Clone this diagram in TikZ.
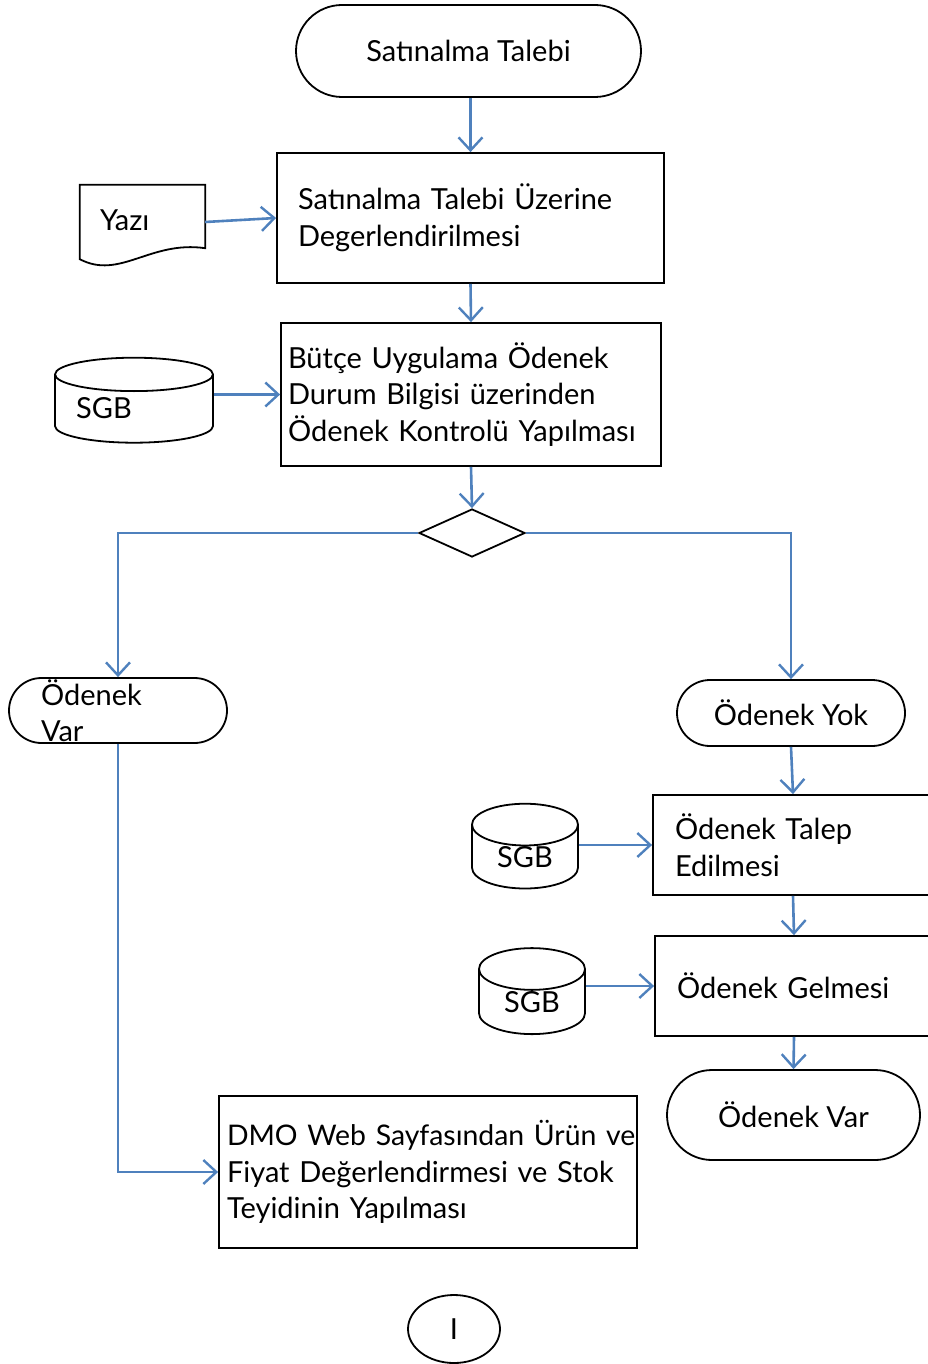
\documentclass[tikz,border=0pt]{standalone}
\usepackage{fontspec}
\setmainfont{Lato}
\usepackage{tikz}
\usetikzlibrary{shapes.geometric, arrows.meta}
\definecolor{flowblue}{HTML}{4F81BD}

\begin{document}
\begin{tikzpicture}[
        x=1pt, y=-1pt,
        font=\fontsize{29}{36.5}\selectfont,
        term/.style={rectangle, draw=black, line width=1.8pt, inner sep=0pt, align=center},
        proc/.style={rectangle, draw=black, line width=1.8pt, align=left, inner ysep=0pt},
        db/.style={cylinder, shape border rotate=90, draw=black, line width=1.8pt, inner sep=0pt},
        flow/.style={draw=flowblue, line width=2.6pt, -{Straight Barb[length=13pt, width=24pt, line width=2.4pt]}}
    ]
        \useasboundingbox (0,0) rectangle (927,1364);

        % Main column
        \node[term, minimum width=345, minimum height=92, rounded corners=46pt] (start) at (468.5,51) {Satınalma Talebi};
        \node[proc, minimum height=130, inner xsep=21pt, text width=345] (eval) at (470.5,218) {Satınalma Talebi Üzerine\\Degerlendirilmesi};
        \node[proc, minimum height=143, inner xsep=7pt, text width=366] (check) at (471,394.5) {Bütçe Uygulama Ödenek\\Durum Bilgisi üzerinden\\Ödenek Kontrolü Yapılması};
        \node[diamond, draw=black, line width=1.8pt, minimum width=106, minimum height=48, inner sep=0pt] (dec) at (472,533) {};

        % Inputs
        \node[align=left, minimum height=74, inner xsep=20pt, text width=85] (yazi) at (142.5,222) {\raisebox{4pt}{Yazı}};
        \draw[line width=1.8pt] (yazi.south west) -- (yazi.north west) -- (yazi.north east) -- ([yshift=11pt]yazi.south east)
            .. controls +(-55,-8) and +(40,21) .. (yazi.south west) -- cycle;
        \node[db, minimum width=158, minimum height=85, aspect=0.6] (sgb1) at (134,409) {\phantom{SGB}};
        \node (sgb1txt) at (104,408) {SGB};

        % Left branch
        \node[term, minimum width=218, minimum height=65, rounded corners=32.5pt, align=left, text width=154] (var1) at (118,710.5) {Ödenek\\Var};
        \node[proc, minimum height=152, inner xsep=8pt, text width=402] (dmo) at (428,1172) {\mbox{\fontsize{28.4}{36.5}\selectfont DMO Web Sayfasından Ürün ve}\\Fiyat Değerlendirmesi ve Stok\\Teyidinin Yapılması};

        % Right branch
        \node[term, minimum width=228, minimum height=66, rounded corners=33pt] (yok) at (791,713) {Ödenek Yok};
        \node[proc, minimum height=100, inner xsep=22pt, text width=236] (talep) at (793,845) {Ödenek Talep\\Edilmesi};
        \node[db, minimum width=106, minimum height=83, aspect=0.75] (sgb2) at (525,857) {SGB};
        \node[proc, minimum height=100, inner xsep=22pt, text width=234] (gelme) at (794,986) {Ödenek Gelmesi};
        \node[db, minimum width=106, minimum height=86, aspect=0.75] (sgb3) at (532,1002) {SGB};
        \node[term, minimum width=253, minimum height=90, rounded corners=45pt] (var2) at (793.5,1115) {Ödenek Var};

        % Connector
        \node[ellipse, draw=black, line width=1.8pt, minimum width=92, minimum height=68, inner sep=0pt] (conn) at (454,1329) {I};

        % Flow
        \draw[flow] (start.south -| eval) -- (eval.north);
        \draw[flow] (yazi.east) -- (eval.west);
        \draw[flow] (eval.south) -- (check.north);
        \draw[flow] (sgb1.east |- check.west) -- (check.west);
        \draw[flow] (check.south) -- (dec.north);
        \draw[flow] (dec.west) -| (var1.north);
        \draw[flow] (dec.east) -| (yok.north);
        \draw[flow] (var1.south) |- (dmo.west);
        \draw[flow] (yok.south) -- (talep.north);
        \draw[flow] (sgb2.east |- talep.west) -- (talep.west);
        \draw[flow] (talep.south) -- (gelme.north);
        \draw[flow] (sgb3.east |- gelme.west) -- (gelme.west);
        \draw[flow] (gelme.south) -- (var2.north);
    \end{tikzpicture}
\end{document}
